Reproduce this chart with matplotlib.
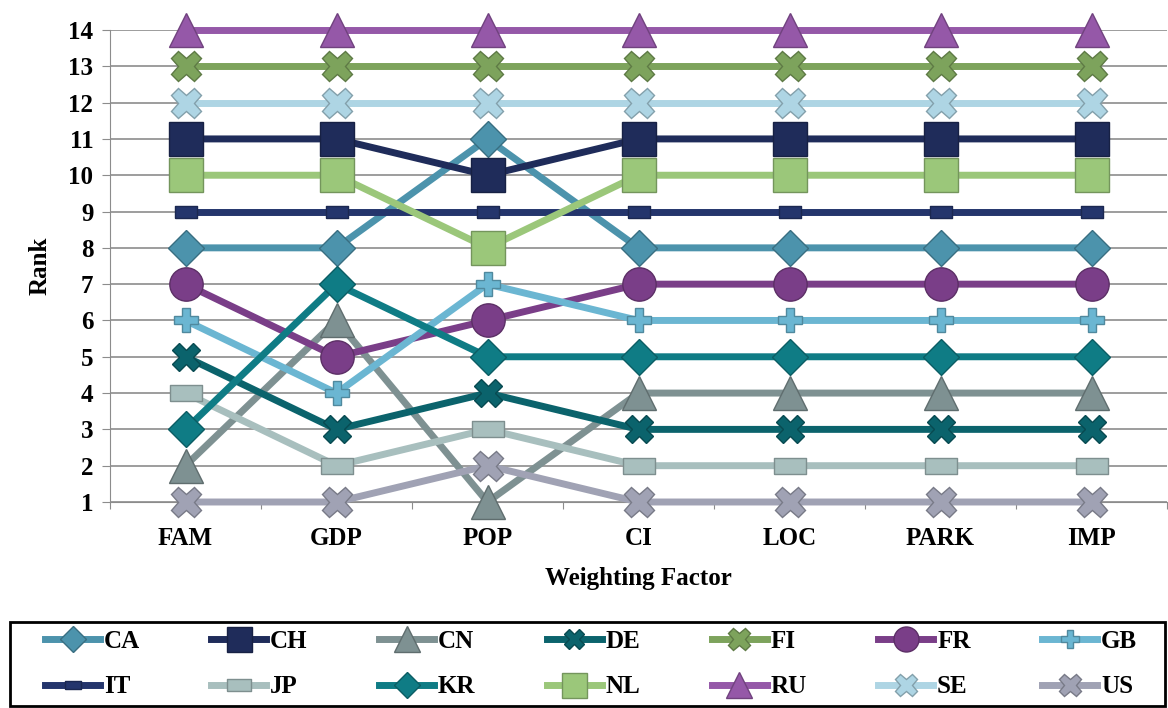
import numpy as np
import matplotlib
matplotlib.use('Agg')
import matplotlib.pyplot as plt
import matplotlib.patches as patches
from matplotlib.colors import to_rgb

plt.rcParams['font.family'] = ['Liberation Serif', 'DejaVu Serif']
plt.rcParams['font.weight'] = 'bold'

# weighting factors on the x axis
factors = ['FAM', 'GDP', 'POP', 'CI', 'LOC', 'PARK', 'IMP']

# rank of each country under each weighting factor
CA = [8, 8, 11, 8, 8, 8, 8]
CH = [11, 11, 10, 11, 11, 11, 11]
CN = [2, 6, 1, 4, 4, 4, 4]
DE = [5, 3, 4, 3, 3, 3, 3]
FI = [13, 13, 13, 13, 13, 13, 13]
FR = [7, 5, 6, 7, 7, 7, 7]
GB = [6, 4, 7, 6, 6, 6, 6]
IT = [9, 9, 9, 9, 9, 9, 9]
JP = [4, 2, 3, 2, 2, 2, 2]
KR = [3, 7, 5, 5, 5, 5, 5]
NL = [10, 10, 8, 10, 10, 10, 10]
RU = [14, 14, 14, 14, 14, 14, 14]
SE = [12, 12, 12, 12, 12, 12, 12]
US = [1, 1, 2, 1, 1, 1, 1]

countries = ['CA', 'CH', 'CN', 'DE', 'FI', 'FR', 'GB', 'IT', 'JP', 'KR', 'NL', 'RU', 'SE', 'US']
ranks = [CA, CH, CN, DE, FI, FR, GB, IT, JP, KR, NL, RU, SE, US]

# style per series: colour, marker, marker size
wide_rect = [(-1, -0.5), (1, -0.5), (1, 0.5), (-1, 0.5), (-1, -0.5)]
styles = {
    'CA': ('#4C93AC', 'D', 18),
    'CH': ('#1F2C5A', 's', 24),
    'CN': ('#7E9192', '^', 25),
    'DE': ('#0B636C', 'X', 20),
    'FI': ('#7DA35C', 'X', 22),
    'FR': ('#7A3E88', 'o', 24),
    'GB': ('#6BB6D2', 'P', 17),
    'IT': ('#24356C', wide_rect, 16),
    'JP': ('#A8BFBE', wide_rect, 23),
    'KR': ('#0F7C85', 'D', 18),
    'NL': ('#9BC77A', 's', 24),
    'RU': ('#9558A8', '^', 25),
    'SE': ('#AED5E4', 'X', 22),
    'US': ('#A0A2B4', 'X', 22),
}


def darker(c, f=0.75):
    r, g, b = to_rgb(c)
    return (r * f, g * f, b * f)


fig = plt.figure(figsize=(11.68, 7.08), dpi=100)
ax = fig.add_axes([110 / 1168, 1 - 502 / 708, 1057 / 1168, 472 / 708])

x = np.arange(len(factors))
lines = []
for i, (name, r) in enumerate(zip(countries, ranks)):
    col, mk, ms = styles[name]
    ln, = ax.plot(x, r, color=col, lw=5, marker=mk, ms=ms,
                  mfc=col, mec=darker(col), mew=1, clip_on=False,
                  zorder=3 + i, label=name)
    lines.append(ln)

ax.set_xlim(-0.5, len(factors) - 0.5)
ax.set_ylim(1, 14)
ax.set_yticks(range(1, 15))
ax.yaxis.grid(True, color='#8C8C8C', lw=1.2)
ax.set_axisbelow(True)

ax.set_xticks(np.arange(-0.5, len(factors), 1.0))
ax.set_xticklabels([])
ax.set_xticks(x, minor=True)
ax.set_xticklabels(factors, minor=True)
ax.tick_params(axis='x', which='minor', length=0, pad=18, labelsize=18)
ax.tick_params(axis='x', which='major', length=5, color='#8C8C8C')
ax.tick_params(axis='y', length=6, color='#8C8C8C', labelsize=18, pad=6)

for s in ['top', 'right']:
    ax.spines[s].set_visible(False)
ax.spines['left'].set_color('#8C8C8C')
ax.spines['bottom'].set_color('#8C8C8C')

ax.set_xlabel('Weighting Factor', fontsize=18, fontweight='bold', labelpad=12)
ax.set_ylabel('Rank', fontsize=18, fontweight='bold', labelpad=12)

# legend filled row by row: 7 columns, 2 rows
ncol = 7
order = []
for c in range(ncol):
    order += [c, c + ncol]
handles = [lines[k] for k in order]

leg = fig.legend(handles=handles, ncol=ncol, loc='center', mode='expand',
                 bbox_to_anchor=(45 / 1168, 1 - 664 / 708, 1092 / 1168, 0),
                 fontsize=18, frameon=False, borderaxespad=0,
                 handlelength=2.2, handletextpad=0.15, borderpad=0,
                 labelspacing=0.9)
for h in leg.legend_handles:
    h.set_markersize(h.get_markersize() * 0.75)

frame = patches.Rectangle((10 / 1168, 2 / 708), 1155 / 1168, 84 / 708,
                          transform=fig.transFigure, fill=False,
                          edgecolor='black', lw=2)
fig.patches.append(frame)

fig.savefig('out.png', dpi=100)
